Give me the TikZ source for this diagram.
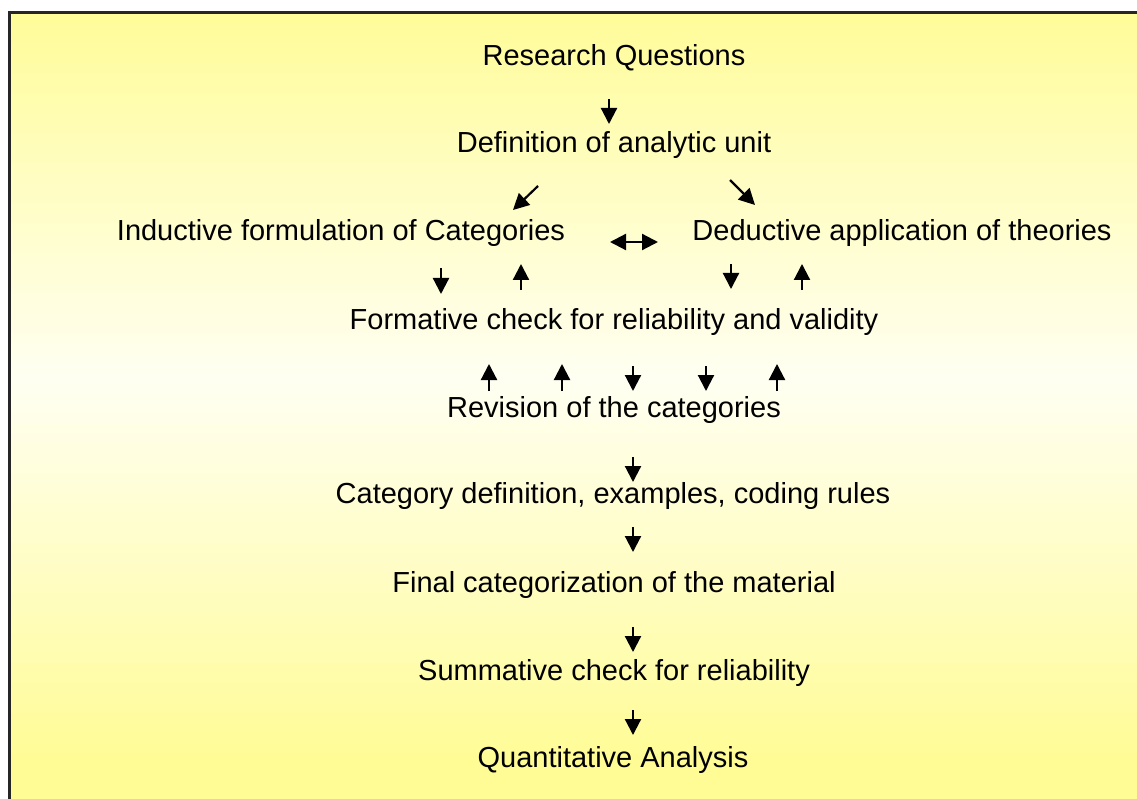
\documentclass[tikz,border=0pt]{standalone}
\usepackage{fontspec}
\setmainfont{Liberation Sans}
\usetikzlibrary{arrows.meta}
\definecolor{paleyellow}{RGB}{255,255,242}
\definecolor{deepyellow}{RGB}{255,252,150}
\tikzset{
  stage/.style={anchor=base, inner sep=0pt, font=\fontsize{29}{34}\selectfont},
  flow/.style={line width=2.2pt, -{Triangle[length=16pt,width=16pt]}},
  twoway/.style={line width=2.2pt, {Triangle[length=16pt,width=16pt]}-{Triangle[length=16pt,width=16pt]}},
}
\begin{document}
\begin{tikzpicture}[x=1pt,y=-1pt]
\clip (0,0) rectangle (1137,799);
\foreach \i in {0,...,79}{
  \pgfmathsetmacro\p{min(100,abs(10*\i+18-380)/3.8)}
  \fill[deepyellow!\p!paleyellow] (9,{13+10*\i}) rectangle (1150,{24+10*\i});
}
\draw[line width=3pt, black!85] (9,13) rectangle (1150,812);

\node[stage] (rq) at (614,66) {Research Questions};
\node[stage] (def) at (614,153) {Definition of analytic unit};
\node[stage] (ind) at (341,241) {Inductive formulation of Categories};
\node[stage] (ded) at (902,241) {Deductive application of theories};
\node[stage] (form) at (614,330) {Formative check for reliability and validity};
\node[stage] (rev) at (614,417) {Revision of the categories};
\node[stage] (catdef) at (613,503) {Category definition, examples, coding rules};
\node[stage] (final) at (614,592) {Final categorization of the material};
\node[stage] (summ) at (614,680) {Summative check for reliability};
\node[stage] (quant) at (613,767) {Quantitative Analysis};

\coordinate (rq-a) at (609,99);   \coordinate (def-a) at (609,124);
\coordinate (def-l) at (538,186); \coordinate (ind-a) at (513,210);
\coordinate (def-r) at (730,180); \coordinate (ded-a) at (755,205);
\coordinate (ind-r) at (610,242); \coordinate (ded-l) at (658,242);
\coordinate (ind-d1) at (441,268); \coordinate (form-u1) at (441,294);
\coordinate (form-d1) at (521,290); \coordinate (ind-u1) at (521,264);
\coordinate (ded-d1) at (731,264); \coordinate (form-u2) at (731,289);
\coordinate (form-d2) at (802,290); \coordinate (ded-u1) at (802,264);
\coordinate (rev-u1) at (489,391); \coordinate (form-b1) at (489,364);
\coordinate (rev-u2) at (562,391); \coordinate (form-b2) at (562,364);
\coordinate (form-b3) at (633,366); \coordinate (rev-u3) at (633,391);
\coordinate (form-b4) at (706,366); \coordinate (rev-u4) at (706,391);
\coordinate (rev-u5) at (777,391); \coordinate (form-b5) at (777,364);
\coordinate (rev-a) at (633,457);   \coordinate (catdef-a) at (633,482);
\coordinate (catdef-b) at (633,527); \coordinate (final-a) at (633,552);
\coordinate (final-b) at (633,627);  \coordinate (summ-a) at (633,652);
\coordinate (summ-b) at (633,710);   \coordinate (quant-a) at (633,735);

\draw[flow] (rq-a) -- (def-a);
\draw[flow] (def-l) -- (ind-a);
\draw[flow] (def-r) -- (ded-a);
\draw[twoway] (ind-r) -- (ded-l);
\draw[flow] (ind-d1) -- (form-u1);
\draw[flow] (form-d1) -- (ind-u1);
\draw[flow] (ded-d1) -- (form-u2);
\draw[flow] (form-d2) -- (ded-u1);
\draw[flow] (rev-u1) -- (form-b1);
\draw[flow] (rev-u2) -- (form-b2);
\draw[flow] (form-b3) -- (rev-u3);
\draw[flow] (form-b4) -- (rev-u4);
\draw[flow] (rev-u5) -- (form-b5);
\draw[flow] (rev-a) -- (catdef-a);
\draw[flow] (catdef-b) -- (final-a);
\draw[flow] (final-b) -- (summ-a);
\draw[flow] (summ-b) -- (quant-a);
\end{tikzpicture}
\end{document}
